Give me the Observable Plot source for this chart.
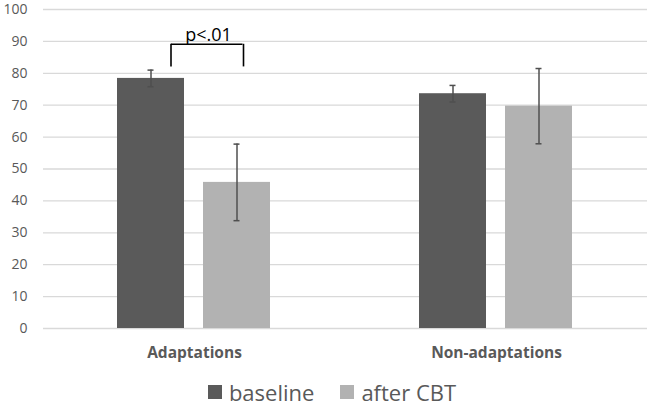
<!DOCTYPE html>
<html>
<head>
<meta charset="utf-8">
<script src="https://cdn.jsdelivr.net/npm/d3@7"></script>
<script src="https://cdn.jsdelivr.net/npm/@observablehq/plot@0.6"></script>
<style>
  html, body { margin: 0; padding: 0; background: #fff; overflow: hidden; }
  #wrap { width: 649px; font-family: "Open Sans", sans-serif; }
  .legend { display: flex; justify-content: center; align-items: center; margin-top: 12px; padding-left: 15px; line-height: 24px; height: 24px; font-size: 22px; color: #595959; }
  .legend .item { display: flex; align-items: center; margin: 0 13px; }
  .legend .sw { width: 14px; height: 14px; margin-right: 7px; }
</style>
</head>
<body>
<div id="wrap"></div>
<script>
const groups = ["Adaptations", "Non-adaptations"];
const series = ["baseline", "after CBT"];
const colors = ["#5a5a5a", "#b2b2b2"];
const baselineValues = [78.4, 73.6];
const baselineErrors = [2.6, 2.6];
const afterValues = [45.8, 69.7];
const afterErrors = [12.0, 11.8];
const yTicks = [0, 10, 20, 30, 40, 50, 60, 70, 80, 90, 100];
const bracket = [{group: "Adaptations", from: "baseline", to: "after CBT", top: 89.1, bottom: 82.0, label: "p<.01"}];

const data = [];
groups.forEach((g, i) => {
  data.push({group: g, series: series[0], value: baselineValues[i], err: baselineErrors[i]});
  data.push({group: g, series: series[1], value: afterValues[i], err: afterErrors[i]});
});

const chart = Plot.plot({
  width: 649,
  height: 368,
  marginTop: 9,
  marginBottom: 40,
  marginLeft: 43,
  marginRight: 2,
  style: {fontFamily: "Open Sans", fontSize: "14px", color: "#595959", background: "#fff"},
  fx: {domain: groups, padding: 0, label: null},
  x: {domain: series, paddingInner: 0.218, paddingOuter: 0.845, axis: null},
  y: {domain: [0, 100], axis: null},
  color: {domain: series, range: colors},
  marks: [
    Plot.ruleY(yTicks, {stroke: "#d9d9d9", strokeWidth: 1.3}),
    Plot.barY(data, {fx: "group", x: "series", y: "value", fill: "series"}),
    Plot.ruleX(data, {fx: "group", x: "series", y1: d => d.value - d.err, y2: d => d.value + d.err, stroke: "#4f4f4f", strokeWidth: 1.5}),
    Plot.tickY(data, {fx: "group", x: "series", y: d => d.value + d.err, stroke: "#4f4f4f", strokeWidth: 1.5, insetLeft: 30.5, insetRight: 30.5}),
    Plot.tickY(data, {fx: "group", x: "series", y: d => d.value - d.err, stroke: "#4f4f4f", strokeWidth: 1.5, insetLeft: 30.5, insetRight: 30.5}),
    Plot.ruleY(bracket, {fx: "group", x1: "from", x2: "to", y: "top", stroke: "#000", strokeWidth: 1.6, insetLeft: 54, insetRight: 27.5}),
    Plot.ruleX(bracket, {fx: "group", x: "from", y1: "bottom", y2: "top", stroke: "#000", strokeWidth: 1.6, dx: 20}),
    Plot.ruleX(bracket, {fx: "group", x: "to", y1: "bottom", y2: "top", stroke: "#000", strokeWidth: 1.6, dx: 6.5}),
    Plot.text(bracket, {fx: "group", x: "from", y: "top", text: "label", dx: 57.5, dy: -9, fill: "#000", fontSize: 18, textAnchor: "middle"}),
    Plot.axisY(yTicks, {tickSize: 0, tickPadding: 16, label: null, fontSize: 14}),
    Plot.axisFx({anchor: "bottom", tickSize: 0, tickPadding: 18, label: null, fontWeight: "bold", fontSize: 15.5})
  ]
});

const wrap = document.getElementById("wrap");
wrap.appendChild(chart);
const legend = document.createElement("div");
legend.className = "legend";
series.forEach((s, i) => {
  const item = document.createElement("div");
  item.className = "item";
  const sw = document.createElement("span");
  sw.className = "sw";
  sw.style.background = colors[i];
  const t = document.createElement("span");
  t.textContent = s;
  item.appendChild(sw);
  item.appendChild(t);
  legend.appendChild(item);
});
wrap.appendChild(legend);
</script>
</body>
</html>
